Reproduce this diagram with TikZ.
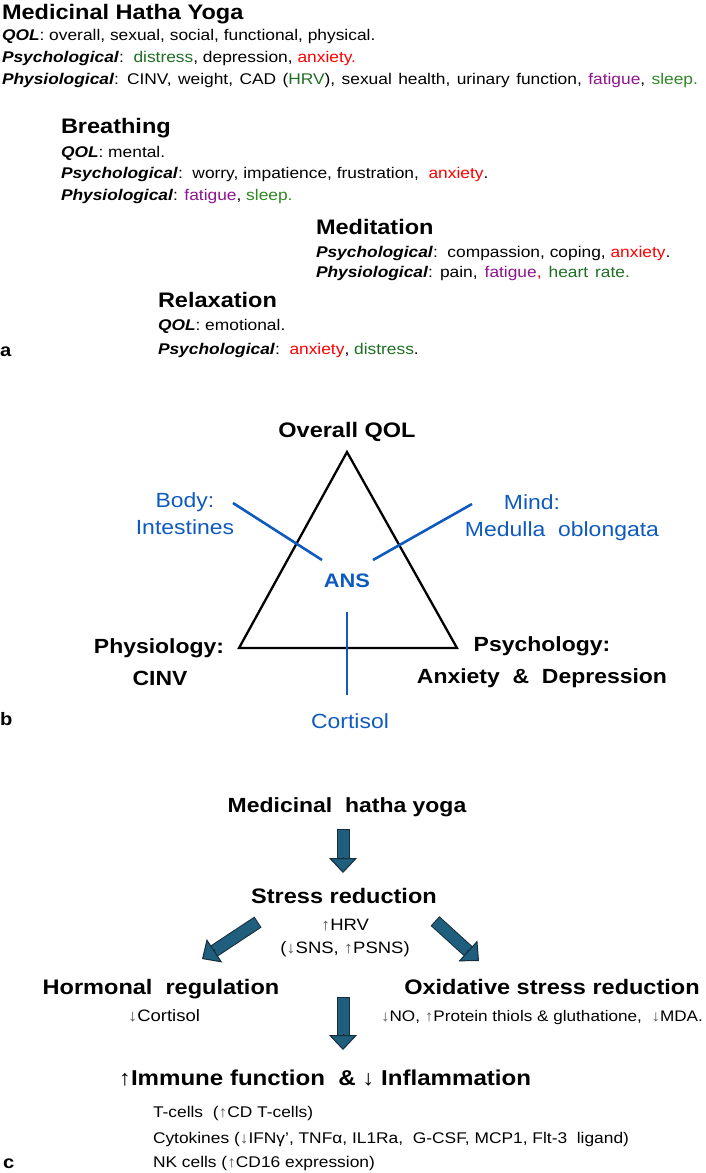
\documentclass[tikz,border=0pt]{standalone}
\usepackage{fontspec}
\setmainfont{Liberation Sans}[FakeStretch=1.12]
\usetikzlibrary{arrows.meta,calc}
\definecolor{myred}{RGB}{255,0,0}
\definecolor{grn}{RGB}{30,110,35}
\definecolor{grnb}{RGB}{45,135,35}
\definecolor{purp}{RGB}{140,20,140}
\definecolor{blu}{RGB}{15,90,190}
\definecolor{arrfill}{RGB}{31,94,125}
\definecolor{arredge}{RGB}{22,45,60}
\definecolor{arrgray}{RGB}{90,90,90}
\newcommand{\fsz}[1]{\fontsize{#1}{#1}\selectfont}
\newcommand{\lbl}[1]{\textbf{\textit{#1}}}
\newcommand{\upa}{{\color{arrgray}↑}}
\newcommand{\dna}{{\color{arrgray}↓}}
\newcommand{\blockarrow}[2]{%
  \draw[arredge, line width=13pt, shorten >=12pt] (#1) -- (#2);
  \draw[arrfill, line width=11pt, shorten >=11pt, shorten <=1pt] (#1) -- (#2);
  \draw[draw=arredge, line width=1pt, -{Triangle[width=28pt,length=15pt,fill=arrfill]}] ($(#2)!16pt!(#1)$) -- (#2);}
\begin{document}
\begin{tikzpicture}[x=1pt,y=-1pt,
  txt/.style={inner sep=0pt, outer sep=0pt, anchor=base west, font=\fsz{15.5}},
  head/.style={inner sep=0pt, outer sep=0pt, anchor=base west, font=\bfseries\fsz{21}},
  ctitle/.style={inner sep=0pt, outer sep=0pt, anchor=base, font=\bfseries\fsz{20.5}},
  bluetxt/.style={inner sep=0pt, outer sep=0pt, anchor=base, text=blu, font=\fsz{20.5}},
  ctxt/.style={inner sep=0pt, outer sep=0pt, anchor=base, font=\fsz{16.5}},
  panel/.style={inner sep=0pt, outer sep=0pt, anchor=base west, font=\bfseries\fsz{18}},
  tri/.style={line width=2.3pt, line join=miter},
  bline/.style={draw=blu, line width=2.6pt}]
\useasboundingbox (0,0) rectangle (706,1173);
% ---------------- panel a
\node[head] (mhy) at (2,19) {Medicinal Hatha Yoga};
\node[txt] (a1) at (2,40) {\lbl{QOL}: overall, sexual, social, functional, physical.};
\node[txt] (a2) at (2,62) {\lbl{Psychological}:\ \ \textcolor{grn}{distress}, depression, \textcolor{myred}{anxiety.}};
\node[txt] (a3) at (2,84) {\spaceskip=6.4pt\relax\lbl{Physiological}: CINV, weight, CAD (\textcolor{grn}{HRV}), sexual health, urinary function, \textcolor{purp}{fatigue}, \textcolor{grnb}{sleep.}};
\node[head] (br) at (61,133) {Breathing};
\node[txt] (b1) at (61,157) {\lbl{QOL}: mental.};
\node[txt] (b2) at (61,178) {\lbl{Psychological}:\ \ worry, impatience, frustration,\ \ \textcolor{myred}{anxiety}.};
\node[txt] (b3) at (61,200) {\lbl{Physiological}: \textcolor{purp}{fatigue}, \textcolor{grnb}{sleep.}};
\node[head] (med) at (316,234) {Meditation};
\node[txt] (m1) at (316,257) {\lbl{Psychological}:\ \ compassion, coping, \textcolor{myred}{anxiety}.};
\node[txt] (m2) at (316,277) {\spaceskip=7pt\relax\lbl{Physiological}:\ pain, \textcolor{purp}{fatigue}\textcolor{myred}{,} \textcolor{grn}{heart rate.}};
\node[head] (rel) at (158,307) {Relaxation};
\node[txt] (r1) at (158,330) {\lbl{QOL}: emotional.};
\node[txt] (r2) at (158,354) {\lbl{Psychological}:\ \ \textcolor{myred}{anxiety}, \textcolor{grn}{distress}.};
\node[panel] (pa) at (0,356) {a};
% ---------------- panel b
\node[ctitle] (oq) at (347,437) {\fsz{21}Overall QOL};
\coordinate (tA) at (347,452);
\coordinate (tL) at (239,648);
\coordinate (tR) at (457,648);
\draw[tri] (tA) -- (tL) -- (tR) -- cycle;
\coordinate (bodyS) at (233,503);
\coordinate (bodyE) at (322,560);
\coordinate (mindS) at (472,504);
\coordinate (mindE) at (373,560);
\coordinate (cortS) at (347,612);
\coordinate (cortE) at (347,695);
\draw[bline] (bodyS) -- (bodyE);
\draw[bline] (mindS) -- (mindE);
\draw[bline] (cortS) -- (cortE);
\node[bluetxt] (body) at (185,507) {Body:};
\node[bluetxt] (intest) at (185,534) {Intestines};
\node[bluetxt] (mind) at (532,509) {Mind:};
\node[bluetxt] (medul) at (562,536) {Medulla\ \ oblongata};
\node[bluetxt, font=\bfseries\fsz{19.5}] (ans) at (347,587) {ANS};
\node[ctitle] (phy) at (159,653) {Physiology:};
\node[ctitle] (cinv) at (160,685) {CINV};
\node[ctitle] (psy) at (542,651) {Psychology:};
\node[ctitle] (anx) at (542,683) {Anxiety\ \ \&\ \ Depression};
\node[bluetxt] (cort) at (350,728) {Cortisol};
\node[panel] (pb) at (0,725) {b};
% ---------------- panel c
\node[ctitle] (mhy2) at (347,812) {Medicinal\ \ hatha yoga};
\node[ctitle, font=\bfseries\fsz{21}] (sr) at (344,903) {Stress reduction};
\node[ctxt] (hrv) at (345,930) {\upa HRV};
\node[ctxt] (sns) at (345,953) {(\dna SNS, \upa PSNS)};
\node[ctitle, font=\bfseries\fsz{21}] (hr) at (161,994) {Hormonal\ \ regulation};
\node[ctxt] (hrc) at (164,1021) {\dna Cortisol};
\node[ctitle, font=\bfseries\fsz{21}] (ox) at (552,994) {Oxidative stress reduction};
\node[txt, font=\fsz{15.3}] (oxd) at (381,1021) {\dna NO, \upa Protein thiols \& gluthatione,\ \ \dna MDA.};
\node[ctitle, font=\bfseries\fsz{21.5}] (imm) at (325,1085) {↑Immune function\ \ \&\ ↓ Inflammation};
\node[txt] (tc) at (153,1117) {T-cells\ \ (\upa CD T-cells)};
\node[txt] (cy) at (153,1143) {Cytokines (\dna IFNγ’,\ TNFα, IL1Ra,\ \ G-CSF, MCP1, Flt-3\ \ ligand)};
\node[txt] (nk) at (153,1167) {NK cells (\upa CD16 expression)};
\node[panel] (pc) at (3,1168) {c};
\coordinate (ar1s) at (343,829);
\coordinate (ar1e) at (343,873);
\coordinate (arLs) at (258,922);
\coordinate (arLe) at (202,959);
\coordinate (arRs) at (435,921);
\coordinate (arRe) at (479,961);
\coordinate (ar2s) at (343,997);
\coordinate (ar2e) at (343,1050);
\blockarrow{ar1s}{ar1e}
\blockarrow{arLs}{arLe}
\blockarrow{arRs}{arRe}
\blockarrow{ar2s}{ar2e}
\end{tikzpicture}
\end{document}
